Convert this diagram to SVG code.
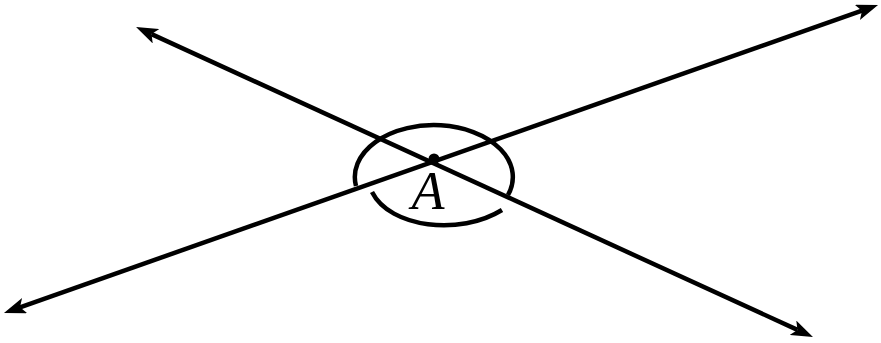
<svg xmlns="http://www.w3.org/2000/svg" width="881" height="343" viewBox="0 0 881 343">
<style>
.ln{stroke:#000;stroke-width:4.5;fill:none}
.arc{stroke:#000;stroke-width:4.5;fill:none;stroke-linecap:butt}
.lbl{font-family:"Liberation Serif",serif;font-style:italic;font-size:54px;fill:#000}
</style>
<defs>
<marker id="ah" markerUnits="userSpaceOnUse" viewBox="0 0 22 16" markerWidth="22" markerHeight="16" refX="5" refY="8" orient="auto-start-reverse">
<path d="M0,0 L22,8 L0,16 L5,8 z" fill="#000"/>
</marker>
</defs>
<rect width="881" height="343" fill="#fff"/>
<g id="connectors">
<line class="ln" x1="20" y1="307.3" x2="862" y2="10.7" marker-start="url(#ah)" marker-end="url(#ah)"/>
<line class="ln" x1="151.5" y1="34.1" x2="797.5" y2="329.9" marker-start="url(#ah)" marker-end="url(#ah)"/>
</g>
<g id="angle-arcs">
<path class="arc" d="M356,186 A79,52 0 1 1 508,195"/>
<path class="arc" d="M372,192 C390,228 460,236 502,210"/>
</g>
<g id="pointA">
<circle cx="434" cy="159" r="5.5" fill="#000"/>
<text class="lbl" x="428" y="209" text-anchor="middle">A</text>
</g>
</svg>
